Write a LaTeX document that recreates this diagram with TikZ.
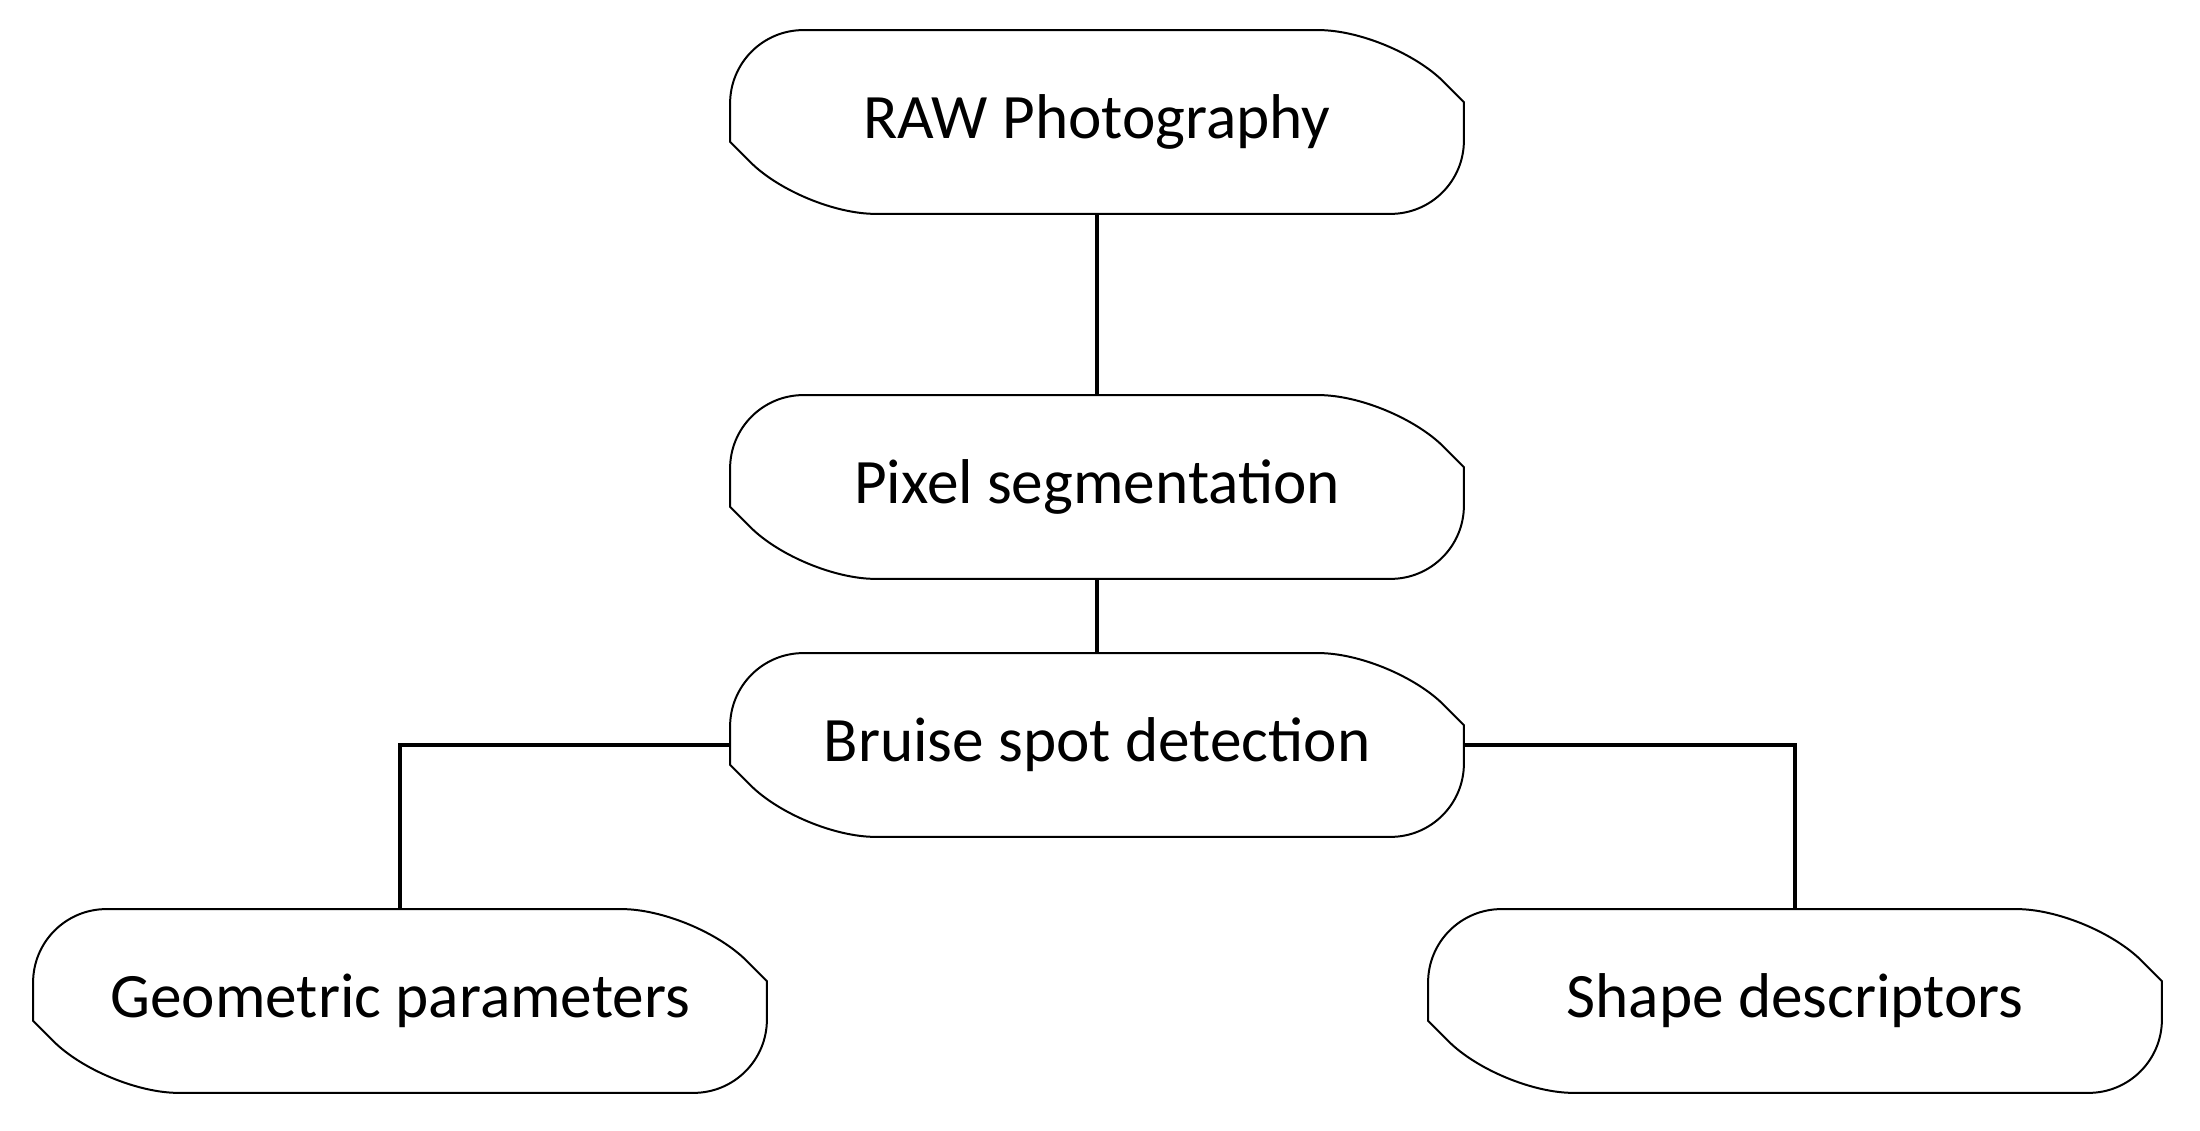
\documentclass[tikz,border=0pt]{standalone}
\usepackage{fontspec}
\setmainfont{Carlito}
\usetikzlibrary{calc}
\begin{document}
\begin{tikzpicture}[
  box/.style={minimum width=22cm,minimum height=5.5cm,inner sep=0pt,font=\fontsize{54}{60}\selectfont},
  conn/.style={line width=2.6pt},
  outl/.style={line width=1.7pt}]
\useasboundingbox (0,0) rectangle (66,33.93);
\node[box] (raw) at (32.91,30.27) {RAW Photography};
\node[box] (pix) at (32.91,19.32) {Pixel segmentation};
\node[box] (bru) at (32.91,11.58) {Bruise spot detection};
\node[box] (geo) at (12.0,3.90) {Geometric parameters};
\node[box] (sha) at (53.85,3.90) {Shape descriptors};
\def\c{2.16}
\foreach \n in {raw,pix,bru,geo,sha}{
  \draw[outl] ($(\n.north west)+(0,-\c)$) [rounded corners=2.2cm] |- ($(\n.north east)+(-\c,0)$)
    [sharp corners] -- ++(\c,-\c) [rounded corners=2.2cm] |- ($(\n.south west)+(\c,0)$)
    [sharp corners] -- ($(\n.south west)+(0,\c)$) -- cycle;
}
\draw[conn] (raw.south) -- (pix.north);
\draw[conn] (pix.south) -- (bru.north);
\draw[conn] (bru.west) -| (geo.north);
\draw[conn] (bru.east) -| (sha.north);
\end{tikzpicture}
\end{document}
